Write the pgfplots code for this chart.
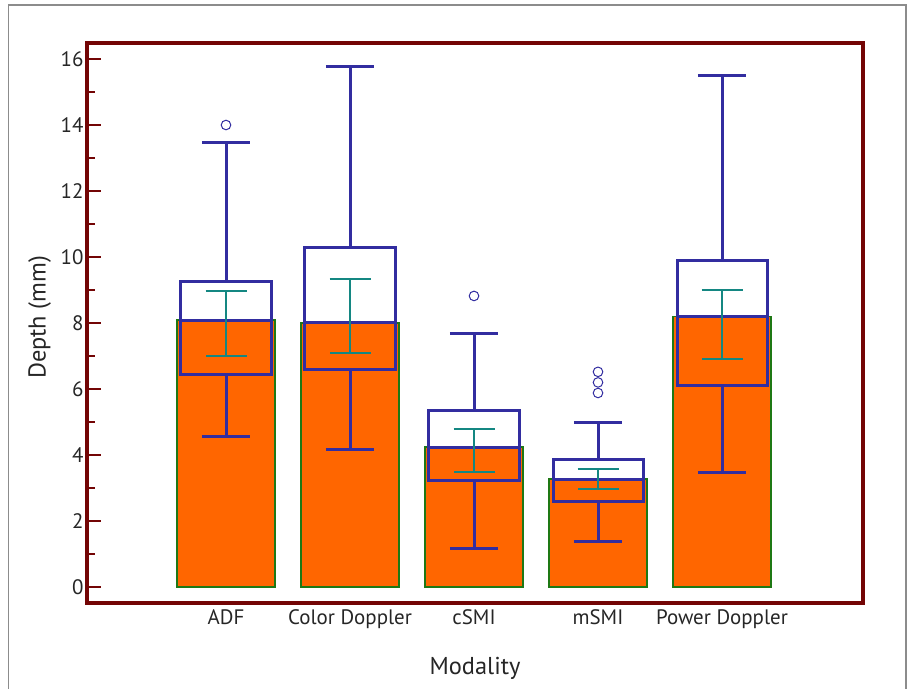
\documentclass[border=0pt]{standalone}
\usepackage{pgfplots}
\pgfplotsset{compat=1.18}
\usepgfplotslibrary{statistics}
\usepackage{fontspec}
\setmainfont{PT Sans}
\definecolor{barorange}{RGB}{255,102,0}
\definecolor{baredge}{RGB}{30,120,20}
\definecolor{boxblue}{RGB}{50,45,160}
\definecolor{citeal}{RGB}{20,135,130}
\definecolor{framered}{RGB}{115,5,5}
\definecolor{outergray}{RGB}{140,140,140}
\begin{document}
\begin{tikzpicture}
\useasboundingbox (0bp,0bp) rectangle (909bp,-689bp);
\draw[outergray, line width=1.6bp] (8.5bp,-700bp) -- (8.5bp,-5bp) -- (906bp,-5bp) -- (906bp,-700bp);
\begin{axis}[
  at={(87bp,-603bp)}, anchor=south west,
  scale only axis, width=776bp, height=560bp,
  xmin=-1.121, xmax=5.137, ymin=-0.485, ymax=16.485,
  boxplot/draw direction=y,
  axis line style={framered, line width=3.2bp},
  xtick={0,1,2,3,4},
  xticklabels={ADF,Color Doppler,cSMI,mSMI,Power Doppler},
  xtick style={draw=none},
  ytick={0,2,...,16},
  minor ytick={1,3,...,15},
  ytick pos=left,
  tick align=inside,
  major tick length=14bp,
  minor tick length=8bp,
  ytick style={framered, line width=2.2bp},
  /pgf/number format/assume math mode=true,
  ticklabel style={font=\fontsize{21}{24}\selectfont, text=black!85},
  xticklabel style={yshift=-3bp},
  label style={font=\fontsize{24.5}{28}\selectfont, text=black!85},
  xlabel={Modality},
  ylabel={Depth (mm)},
  xlabel style={at={(axis description cs:0.5,-0.116)}, anchor=center},
  ylabel style={at={(axis description cs:-0.0612,0.51)}, anchor=center},
  clip=false,
]
% bars (central value)
\addplot[ybar, bar width=0.79, fill=barorange, draw=baredge, line width=1.8bp]
  coordinates {(0,8.09) (1,8.01) (2,4.24) (3,3.27) (4,8.20)};
% box plots
\addplot[boxblue, line width=3bp, boxplot prepared={draw position=0,
  lower whisker=4.57, lower quartile=6.45, median=8.09, upper quartile=9.27, upper whisker=13.47,
  box extend=0.726, whisker extend=0.39}] coordinates {};
\addplot[boxblue, line width=3bp, boxplot prepared={draw position=1,
  lower whisker=4.17, lower quartile=6.60, median=8.01, upper quartile=10.28, upper whisker=15.76,
  box extend=0.726, whisker extend=0.39}] coordinates {};
\addplot[boxblue, line width=3bp, boxplot prepared={draw position=2,
  lower whisker=1.18, lower quartile=3.24, median=4.24, upper quartile=5.36, upper whisker=7.67,
  box extend=0.726, whisker extend=0.39}] coordinates {};
\addplot[boxblue, line width=3bp, boxplot prepared={draw position=3,
  lower whisker=1.37, lower quartile=2.58, median=3.27, upper quartile=3.85, upper whisker=4.97,
  box extend=0.726, whisker extend=0.39}] coordinates {};
\addplot[boxblue, line width=3bp, boxplot prepared={draw position=4,
  lower whisker=3.47, lower quartile=6.10, median=8.20, upper quartile=9.88, upper whisker=15.49,
  box extend=0.726, whisker extend=0.39}] coordinates {};
% 95% CI
\addplot[draw=none, mark=none, error bars/.cd, y dir=both, y explicit, error mark=-,
  error bar style={draw=citeal, line width=1.8bp},
  error mark options={rotate=90, draw=citeal, line width=1.8bp, mark size=20.5bp}]
  coordinates {(0,7.985) +- (0,0.985) (1,8.205) +- (0,1.125) (2,4.135) +- (0,0.655)
               (3,3.275) +- (0,0.305) (4,7.955) +- (0,1.045)};
% outliers
\addplot[only marks, mark=o, mark size=4.8bp, boxblue, line width=1bp]
  coordinates {(0,14.0) (2,8.82) (3,5.88) (3,6.20) (3,6.52)};
\end{axis}
\end{tikzpicture}
\end{document}
